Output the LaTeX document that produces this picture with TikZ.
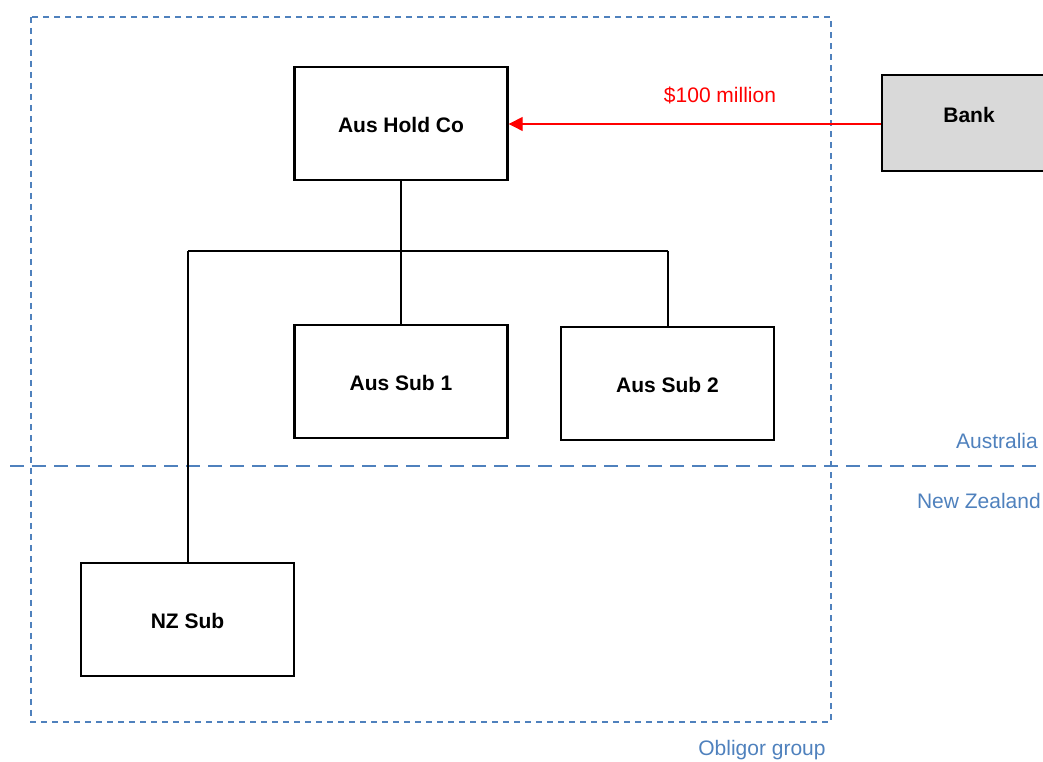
\documentclass[tikz,border=0pt]{standalone}
\usepackage{fontspec}
\setmainfont{Liberation Sans}
\usetikzlibrary{arrows.meta}
\definecolor{grpblue}{RGB}{79,129,189}
\definecolor{bankgray}{RGB}{217,217,217}
\tikzset{
  x=1pt,y=1pt,
  entity/.style={draw=black,line width=2.4pt,minimum width=213pt,minimum height=113pt,inner sep=0pt,text height=19pt,text depth=0pt,font=\fontsize{21}{25}\selectfont\bfseries},
  link/.style={draw=black,line width=1.8pt},
  lbl/.style={text=grpblue,font=\fontsize{21}{25}\selectfont,inner sep=0pt},
}
\begin{document}
\begin{tikzpicture}
\useasboundingbox (0,0) rectangle (1043,762);
% obligor group box
\draw[grpblue,line width=1.8pt,dash pattern=on 6pt off 5pt] (31,745) rectangle (831,40);
% border line
\draw[grpblue,line width=1.8pt,dash pattern=on 14pt off 8pt] (10,296) -- (1043,296);
\node[lbl,anchor=east] (aus) at (1038,321) {Australia};
\node[lbl,anchor=east] (nz) at (1041,261) {New Zealand};
\node[lbl] (og) at (762,12) {Obligor group};
% entities
\node[entity] (hold) at (401,638.5) {Aus Hold Co};
\node[entity,fill=bankgray,minimum width=174pt,minimum height=96pt,text height=15pt,text depth=16pt] (bank) at (969,639) {Bank};
\node[entity] (sub1) at (401,380.5) {Aus Sub 1};
\node[entity] (sub2) at (667.5,378.5) {Aus Sub 2};
\node[entity] (nzsub) at (187.5,142.5) {NZ Sub};
% connectors
\coordinate (j) at (401,511);
\coordinate (jl) at (188,511);
\coordinate (jr) at (668,511);
\draw[link] (hold.south) -- (j);
\draw[link] (jl) -- (jr);
\draw[link] (j) -- (sub1.north);
\draw[link] (jr) -- (jr |- sub2.north);
\draw[link] (jl) -- (jl |- nzsub.north);
% loan
\draw[red,line width=1.3pt,-{Triangle[length=14pt,width=14pt]}] (bank.west |- 0,638) -- (hold.east |- 0,638);
\node[text=red,font=\fontsize{21}{25}\selectfont,inner sep=0pt] (amt) at (720,667) {\$100 million};
\end{tikzpicture}
\end{document}
